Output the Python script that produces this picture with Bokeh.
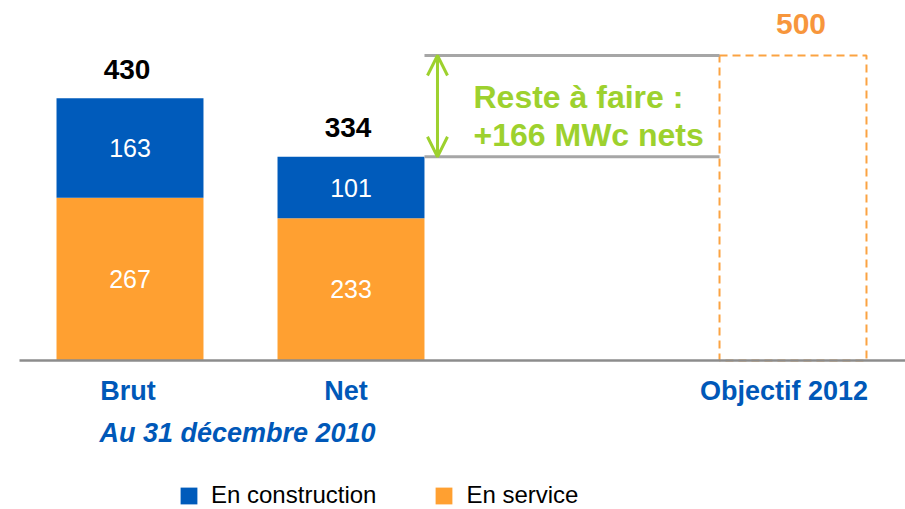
from bokeh.plotting import figure
from bokeh.models import (ColumnDataSource, Range1d, Arrow, OpenHead, Legend, LegendItem)
from bokeh.core.properties import value
from bokeh.embed import file_html
from bokeh.resources import INLINE

# ---------------- data ----------------
categories = ["Brut", "Net"]
en_service = [267, 233]
en_construction = [163, 101]
objectif_label = "Objectif 2012"
objectif_value = 500
date_label = "Au 31 décembre 2010"
reste_title = "Reste à faire :"
unit_label = "MWc nets"

# ---------------- layout / style ----------------
W, H = 905, 509
OFF = 0               # page offset of the figure
SCALE = 0.61          # px per MW
BASE_PY = 360         # page y of the baseline
SLOT0_PX = 129.5      # page x of the first slot centre
SLOT_W = 221          # px per slot
slots = [0, 1]        # Brut, Net
obj_slot = 3          # one empty slot before the target
BAR_W = 0.665

FONT_NAME = "Liberation Sans"
FONT = value(FONT_NAME)
BLUE = "#005bbb"
ORANGE = "#ffa031"
LBLUE = "#0058b8"
GREEN = "#9dd12e"
ORANGE_TXT = "#f7963c"
DASH = "#fba342"
GRAY_AX = "#8c8c8c"
GRAY_LN = "#a6a6a6"

def ypx(py):
    return (BASE_PY - py) / SCALE

def xpx(px):
    return (px - SLOT0_PX) / SLOT_W

p = figure(width=W, height=H, output_backend="svg", toolbar_location=None,
           x_range=Range1d(xpx(OFF), xpx(OFF + W)),
           y_range=Range1d(ypx(OFF + H), ypx(OFF)),
           min_border=0, outline_line_color=None)
p.axis.visible = False
p.grid.visible = False
p.background_fill_color = "white"
p.border_fill_color = "white"

totals = [s + c for s, c in zip(en_service, en_construction)]
src = ColumnDataSource(dict(x=slots, cat=categories, service=en_service,
                            construction=en_construction, total=totals,
                            mid_s=[s / 2 for s in en_service],
                            mid_c=[s + c / 2 for s, c in zip(en_service, en_construction)],
                            ts=[str(v) for v in en_service],
                            tc=[str(v) for v in en_construction],
                            tt=[str(v) for v in totals]))

rs = p.vbar_stack(["service", "construction"], x="x", width=BAR_W,
                  color=[ORANGE, BLUE], line_color=None, source=src)

# target dashed box
obj_src = ColumnDataSource(dict(x=[obj_slot], top=[objectif_value], t=[str(objectif_value)],
                                cat=[objectif_label]))
p.vbar(x="x", top="top", bottom=0, width=BAR_W, source=obj_src, fill_color=None,
       line_color=DASH, line_width=2, line_dash="8 5")

# baseline axis line
p.segment(x0=[xpx(19)], y0=[0], x1=[xpx(OFF + W)], y1=[0], line_color=GRAY_AX, line_width=2.5)

# reference lines at net total and target
net_total = totals[1]
x_left = slots[1] + BAR_W / 2
x_right = obj_slot - BAR_W / 2
p.segment(x0=[x_left, x_left], y0=[objectif_value, net_total],
          x1=[x_right, x_right], y1=[objectif_value, net_total],
          line_color=GRAY_LN, line_width=3)

# double arrow
xa = x_left + xpx(437) - xpx(424)
p.add_layout(Arrow(start=OpenHead(size=20, line_color=GREEN, line_width=3),
                   end=OpenHead(size=20, line_color=GREEN, line_width=3),
                   x_start=xa, y_start=net_total, x_end=xa, y_end=objectif_value,
                   line_color=GREEN, line_width=3))

reste = objectif_value - net_total
mid = (objectif_value + net_total) / 2
p.text(x=[xpx(473)] * 2, y=[mid, mid],
       text=[reste_title, "+%d %s" % (reste, unit_label)],
       y_offset=[-9, 29], text_align="left", text_baseline="middle",
       text_font=FONT, text_font_style="bold", text_font_size="32px", text_color=GREEN)

# value labels inside segments
p.text(x="x", y="mid_s", text="ts", source=src, text_align="center", text_baseline="middle",
       text_font=FONT, text_font_size="25px", text_color="white")
p.text(x="x", y="mid_c", text="tc", source=src, text_align="center", text_baseline="middle",
       text_font=FONT, text_font_size="25px", text_color="white")
# totals
p.text(x="x", y="total", text="tt", source=src, text_align="center", text_baseline="middle",
       y_offset=-29, x_offset=-3, text_font=FONT, text_font_style="bold", text_font_size="28px",
       text_color="black")
p.text(x="x", y="top", text="t", source=obj_src, text_align="center", text_baseline="middle",
       y_offset=-32, x_offset=8, text_font=FONT, text_font_style="bold", text_font_size="30px",
       text_color=ORANGE_TXT)

# category labels
p.text(x=slots + [obj_slot], y=[ypx(390)] * 3, text=categories + [objectif_label],
       x_offset=[-2, -5, -9], text_align="center", text_baseline="middle",
       text_font=FONT, text_font_style="bold", text_font_size="27px", text_color=LBLUE)
p.text(x=[(slots[0] + slots[1]) / 2], y=[ypx(432.5)], text=[date_label], x_offset=-3,
       text_align="center", text_baseline="middle",
       text_font=FONT, text_font_style="bold italic", text_font_size="27px", text_color=LBLUE)

legend = Legend(items=[LegendItem(label="En construction", renderers=[rs[1]]),
                       LegendItem(label="En service", renderers=[rs[0]])],
                orientation="horizontal", location=(178 - OFF, 0),
                glyph_width=21, glyph_height=21, label_standoff=12, spacing=57,
                padding=0, margin=0, border_line_color=None, background_fill_alpha=0,
                label_text_font=FONT_NAME, label_text_font_size="24px", label_text_color="black")
p.add_layout(legend)

open("out.html", "w").write(file_html(p, INLINE))
